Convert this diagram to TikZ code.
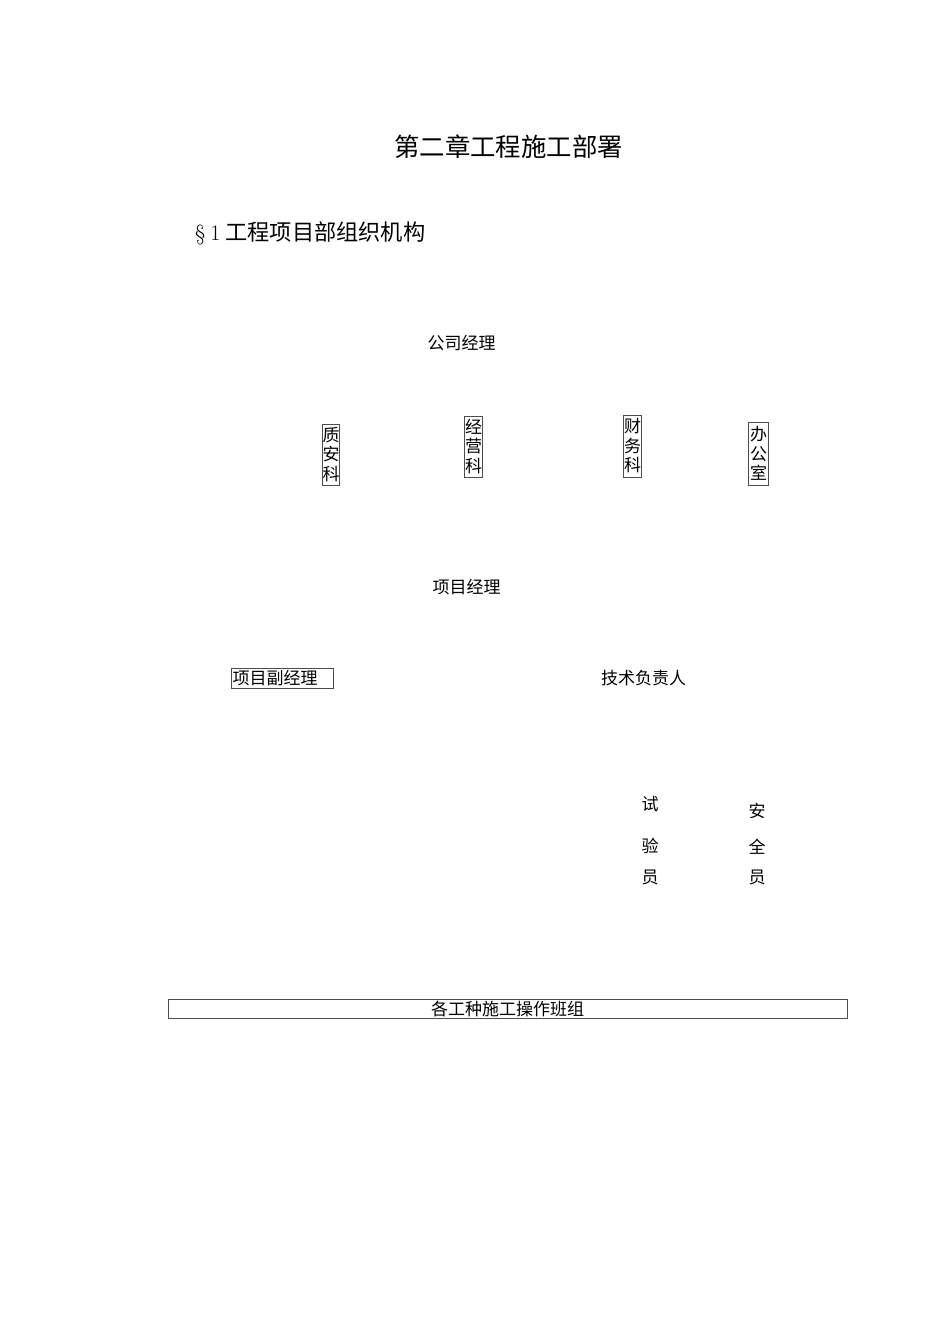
\documentclass[tikz,border=0pt]{standalone}
\usepackage{fontspec}
\newfontfamily\cjk{Noto Sans CJK SC}
\begin{document}
\begin{tikzpicture}[x=1pt,y=-1pt,
  txt/.style={inner sep=0pt, font=\cjk\fontsize{17}{20}\selectfont},
  vbox/.style={draw=black!70, line width=0.8pt, inner sep=0pt, align=center,
    font=\cjk\fontsize{17}{19.5}\selectfont, text width=16pt},
  hbox/.style={draw=black!70, line width=0.8pt, inner sep=0pt,
    font=\cjk\fontsize{17}{20}\selectfont}]
\fill[white] (0,0) rectangle (950,1344);
\useasboundingbox (0,0) rectangle (950,1344);
\node[inner sep=0pt, font=\cjk\fontsize{25.4}{30}\selectfont] (title) at (508.5,147) {第二章工程施工部署};
\node[inner sep=0pt, anchor=west, font=\fontsize{22}{26}\selectfont] (sec) at (195,233) {\S\hspace{5pt}1\hspace{5pt}{\cjk\fontsize{22.2}{26}\selectfont 工程项目部组织机构}};
\node[txt] (gsjl) at (461.5,343) {公司经理};
\node[vbox, minimum width=17pt, minimum height=61pt] (zak) at (330.5,454.5) {质\\安\\科};
\node[vbox, minimum width=18pt, minimum height=61pt] (jyk) at (473,446.5) {经\\营\\科};
\node[vbox, minimum width=18pt, minimum height=62pt] (cwk) at (632,446) {财\\务\\科};
\node[vbox, minimum width=20pt, minimum height=63pt] (bgs) at (758,453.5) {办\\公\\室};
\node[txt] (xmjl) at (466.5,587) {项目经理};
\node[hbox, minimum width=102pt, minimum height=20pt, text width=99pt, align=left] (fjl) at (282,678) {项目副经理};
\node[txt] (jsfzr) at (643.5,678) {技术负责人};
\node[txt] (s1) at (650,804) {试};
\node[txt] (s2) at (650,846) {验};
\node[txt] (s3) at (650,877) {员};
\node[txt] (a1) at (757,811) {安};
\node[txt] (a2) at (757,847) {全};
\node[txt] (a3) at (757,877) {员};
\node[hbox, minimum width=679pt, minimum height=19pt] (bz) at (507.5,1008.5) {各工种施工操作班组};
\end{tikzpicture}
\end{document}
